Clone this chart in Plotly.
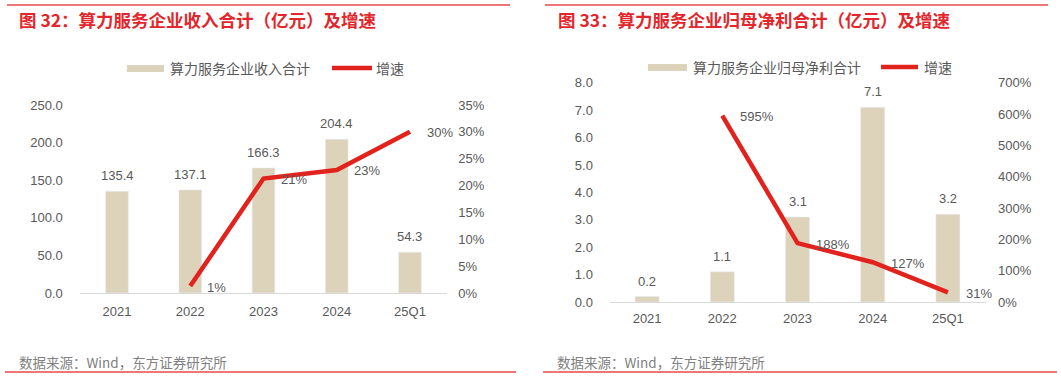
import plotly.graph_objects as go

W, H = 1061, 385

categories = ["2021", "2022", "2023", "2024", "25Q1"]
revenue = [135.4, 137.1, 166.3, 204.4, 54.3]
revenue_growth = [None, 1.3, 21.3, 22.9, 30.0]
profit = [0.2, 1.1, 3.1, 7.1, 3.2]
profit_growth = [None, 595, 188, 127, 31]

rev_ticks = [0, 50, 100, 150, 200, 250]
rev_growth_ticks = [0, 5, 10, 15, 20, 25, 30, 35]
profit_ticks = [0, 1, 2, 3, 4, 5, 6, 7, 8]
profit_growth_ticks = [0, 100, 200, 300, 400, 500, 600, 700]

title_left = "图 32：算力服务企业收入合计（亿元）及增速"
title_right = "图 33：算力服务企业归母净利合计（亿元）及增速"
legend_bar_left = "算力服务企业收入合计"
legend_bar_right = "算力服务企业归母净利合计"
legend_line = "增速"
source_text = "数据来源：Wind，东方证券研究所"

BAR = "#DDD3BB"
RED = "#E2231D"
TITLE_RED = "#E3262B"
GRAY = "#595959"
FONT = "Liberation Sans, Arial, Noto Sans CJK SC, sans-serif"
CJK = "Noto Sans CJK SC, sans-serif"

xpos = list(range(len(categories)))


def px(x):
    return x / W


def py(y):
    return 1 - y / H


fig = go.Figure()

fig.add_trace(go.Bar(x=xpos, y=revenue, marker_color=BAR, width=0.31,
                     xaxis="x", yaxis="y", showlegend=False, hoverinfo="skip"))
fig.add_trace(go.Scatter(x=xpos, y=revenue_growth, mode="lines",
                         line=dict(color=RED, width=4.5), xaxis="x", yaxis="y2",
                         showlegend=False, hoverinfo="skip"))
fig.add_trace(go.Bar(x=xpos, y=profit, marker_color=BAR, width=0.32,
                     xaxis="x2", yaxis="y3", showlegend=False, hoverinfo="skip"))
fig.add_trace(go.Scatter(x=xpos, y=profit_growth, mode="lines",
                         line=dict(color=RED, width=4.5), xaxis="x2", yaxis="y4",
                         showlegend=False, hoverinfo="skip"))

tickfont = dict(family=FONT, size=13, color=GRAY)


def xax(domain, anchor, ticklen):
    return dict(domain=domain, anchor=anchor, type="linear", range=[-0.5, 4.5],
                tickmode="array", tickvals=xpos, ticktext=categories,
                showline=True, linecolor="#D9D9D9", linewidth=1.2,
                showgrid=False, zeroline=False, tickfont=tickfont, automargin=False,
                ticks="outside", ticklen=ticklen, tickcolor="rgba(0,0,0,0)")


def yax(domain, rng, vals, texts, ticklen, **kw):
    return dict(domain=domain, range=rng, type="linear", tickmode="array",
                tickvals=vals, ticktext=texts, showgrid=False, zeroline=False,
                showline=False, tickfont=tickfont, ticks="outside", ticklen=ticklen,
                tickcolor="rgba(0,0,0,0)", automargin=False, **kw)


dom_l = [py(293), py(105)]
dom_r = [py(302), py(82.7)]

fig.update_layout(
    width=W, height=H, autosize=False,
    margin=dict(l=0, r=0, t=0, b=0, pad=0, autoexpand=False),
    paper_bgcolor="white", plot_bgcolor="white",
    font=dict(family=FONT, color=GRAY),
    xaxis=xax([px(80.4), px(446.6)], "y", 6),
    yaxis=yax(dom_l, [0, 250], rev_ticks, [f"{v:.1f}" for v in rev_ticks], 14, anchor="x"),
    yaxis2=yax(dom_l, [0, 35], rev_growth_ticks, [f"{v}%" for v in rev_growth_ticks], 8,
               overlaying="y", side="right", anchor="x"),
    xaxis2=xax([px(609.5), px(985.5)], "y3", 4),
    yaxis3=yax(dom_r, [0, 8], profit_ticks, [f"{v:.1f}" for v in profit_ticks], 13, anchor="x2"),
    yaxis4=yax(dom_r, [0, 700], profit_growth_ticks, [f"{v}%" for v in profit_growth_ticks], 9,
               overlaying="y3", side="right", anchor="x2"),
)

ann = []
lblfont = dict(family=FONT, size=13, color=GRAY)

for i, v in zip(xpos, revenue):
    ann.append(dict(x=i, y=v, xref="x", yref="y", text=f"{v:.1f}", showarrow=False,
                    yanchor="bottom", yshift=6, font=lblfont))
for i, v in zip(xpos, profit):
    ann.append(dict(x=i, y=v, xref="x2", yref="y3", text=f"{v:.1f}", showarrow=False,
                    yanchor="bottom", yshift=6, font=lblfont))
for i, v in zip(xpos, revenue_growth):
    if v is not None:
        ann.append(dict(x=i, y=v, xref="x", yref="y2", text=f"{v:.0f}%", showarrow=False,
                        xanchor="left", xshift=15, yshift=-1, font=lblfont))
for i, v in zip(xpos, profit_growth):
    if v is not None:
        ann.append(dict(x=i, y=v, xref="x2", yref="y4", text=f"{v:.0f}%", showarrow=False,
                        xanchor="left", xshift=16, yshift=-1, font=lblfont))

ann.append(dict(x=px(17), y=py(19), xref="paper", yref="paper", text=f"<b>{title_left}</b>",
                showarrow=False, xanchor="left", yanchor="middle",
                font=dict(family=CJK, size=17.5, color=TITLE_RED)))
ann.append(dict(x=px(556), y=py(19), xref="paper", yref="paper", text=f"<b>{title_right}</b>",
                showarrow=False, xanchor="left", yanchor="middle",
                font=dict(family=CJK, size=17.5, color=TITLE_RED)))

legfont = dict(family=CJK, size=14, color=GRAY)
ann.append(dict(x=px(168), y=py(68), xref="paper", yref="paper", text=legend_bar_left,
                showarrow=False, xanchor="left", yanchor="middle", font=legfont))
ann.append(dict(x=px(374), y=py(68), xref="paper", yref="paper", text=legend_line,
                showarrow=False, xanchor="left", yanchor="middle", font=legfont))
ann.append(dict(x=px(691), y=py(67), xref="paper", yref="paper", text=legend_bar_right,
                showarrow=False, xanchor="left", yanchor="middle", font=legfont))
ann.append(dict(x=px(922), y=py(67), xref="paper", yref="paper", text=legend_line,
                showarrow=False, xanchor="left", yanchor="middle", font=legfont))

srcfont = dict(family=CJK, size=13.5, color="#808080")
ann.append(dict(x=px(17), y=py(362), xref="paper", yref="paper", text=source_text,
                showarrow=False, xanchor="left", yanchor="middle", font=srcfont))
ann.append(dict(x=px(555), y=py(362), xref="paper", yref="paper", text=source_text,
                showarrow=False, xanchor="left", yanchor="middle", font=srcfont))

shapes = []
shapes.append(dict(type="rect", xref="paper", yref="paper", x0=px(127), x1=px(164),
                   y0=py(72), y1=py(65), fillcolor=BAR, line=dict(width=0)))
shapes.append(dict(type="line", xref="paper", yref="paper", x0=px(332), x1=px(372),
                   y0=py(68), y1=py(68), line=dict(color=RED, width=4.5)))
shapes.append(dict(type="rect", xref="paper", yref="paper", x0=px(648), x1=px(687),
                   y0=py(71), y1=py(64), fillcolor=BAR, line=dict(width=0)))
shapes.append(dict(type="line", xref="paper", yref="paper", x0=px(881), x1=px(918),
                   y0=py(67), y1=py(67), line=dict(color=RED, width=4.5)))
for x0, x1 in [(7, 510), (545, 1048)]:
    shapes.append(dict(type="line", xref="paper", yref="paper", x0=px(x0), x1=px(x1),
                       y0=py(5), y1=py(5), line=dict(color="#E8484C", width=1.5)))
for x0, x1 in [(5, 516), (543, 1057)]:
    shapes.append(dict(type="line", xref="paper", yref="paper", x0=px(x0), x1=px(x1),
                       y0=py(372), y1=py(372), line=dict(color="#E8484C", width=1.5)))

fig.update_layout(annotations=ann, shapes=shapes)

fig.write_html("out.html", default_width=W, default_height=H,
               config={"displayModeBar": False, "responsive": False},
               post_script="document.body.style.margin='0';document.body.style.overflow='hidden';")
